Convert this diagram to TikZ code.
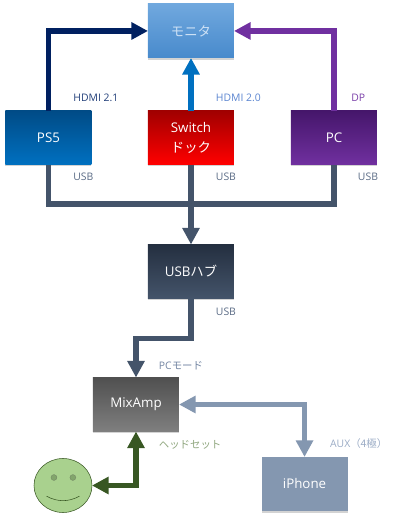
\documentclass[tikz,border=0pt]{standalone}
\usepackage{fontspec}
\setmainfont{Open Sans}
\newfontfamily\jpfont{Noto Sans CJK JP}
\usepackage{xcolor}
\usetikzlibrary{positioning,arrows.meta,shapes.geometric,shadows}

\definecolor{navyline}{HTML}{002060}
\definecolor{blueline}{HTML}{0070C0}
\definecolor{purpleline}{HTML}{7030A0}
\definecolor{usbline}{HTML}{44546A}
\definecolor{auxline}{HTML}{8497B0}
\definecolor{greenline}{HTML}{385723}
\definecolor{monitortop}{HTML}{70A8DE}
\definecolor{monitorbot}{HTML}{488ACC}
\definecolor{monitortext}{HTML}{CDE1F5}
\definecolor{ps5top}{HTML}{004B86}
\definecolor{switchtop}{HTML}{A00000}
\definecolor{pctop}{HTML}{45166A}
\definecolor{hubtop}{HTML}{242F40}
\definecolor{mixtop}{HTML}{505050}
\definecolor{mixbot}{HTML}{7F7F7F}
\definecolor{facefill}{HTML}{A9D18E}
\definecolor{eyefill}{HTML}{82A56C}
\definecolor{hdmiatext}{HTML}{23407A}
\definecolor{hdmibtext}{HTML}{5B85D0}
\definecolor{dptext}{HTML}{7A3FA8}
\definecolor{usbtext}{HTML}{5A6B85}
\definecolor{pcmodetext}{HTML}{7486A3}
\definecolor{headsettext}{HTML}{8FA67E}
\definecolor{auxtext}{HTML}{9AABC5}

\tikzset{
  devbox/.style={
    rectangle,
    align=center,
    text=white,
    font=\fontsize{10}{12}\selectfont,
    minimum width=64.5pt,
    minimum height=40.5pt,
    outer sep=0pt,
    drop shadow={shadow xshift=0pt,shadow yshift=-1.2pt,opacity=.35}
  },
  lbl/.style={anchor=west,inner sep=0pt,font=\fontsize{7.8}{9}\selectfont},
  wire/.style={line width=4pt,-{Triangle[length=12.5pt,width=12.5pt]}},
  plainwire/.style={line width=4pt},
  bothwire/.style={line width=4pt,{Triangle[length=12.5pt,width=12.5pt]}-{Triangle[length=12.5pt,width=12.5pt]}}
}

\begin{document}
\begin{tikzpicture}[on grid]

\node (switch) [devbox,top color=switchtop,bottom color=red]
{Switch\\[3pt]{\jpfont ドック}};

\useasboundingbox (-143.25pt,103.125pt) rectangle (156.75pt,-286.125pt);

\node (monitor) [devbox,above=79.9pt of switch,top color=monitortop,bottom color=monitorbot,text=monitortext]
{\jpfont モニタ};

\node (ps5) [devbox,left=106.9pt of switch,top color=ps5top,bottom color=blueline]
{PS5};

\node (pc) [devbox,right=107.25pt of switch,top color=pctop,bottom color=purpleline]
{PC};

\node (usbhub) [devbox,below=100.5pt of switch,top color=hubtop,bottom color=usbline]
{USB{\jpfont ハブ}};

\node (mixamp) [devbox,below left=99.75pt and 41.25pt of usbhub,top color=mixtop,bottom color=mixbot]
{MixAmp};

\node (iphone) [devbox,below right=59.6pt and 126.4pt of mixamp,fill=auxline]
{iPhone};

\node (face) [ellipse,draw=greenline,line width=.4pt,fill=facefill,minimum width=43.5pt,minimum height=40.5pt,inner sep=0pt,outer sep=0pt,below left=60.75pt and 54.75pt of mixamp] {};

\coordinate (usbjoin) at ([yshift=-49.9pt]switch.center);
\coordinate (hubturn) at ([yshift=29.5pt]mixamp.north);

% video
\draw[wire,navyline] (ps5.north) |- (monitor.west);
\draw[wire,blueline] (switch.north) -- (monitor.south);
\draw[wire,purpleline] (pc.north) |- (monitor.east);

% usb
\draw[plainwire,usbline] (ps5.south) |- (usbjoin);
\draw[plainwire,usbline] (pc.south) |- (usbjoin);
\draw[wire,usbline] (switch.south) -- (usbhub.north);
\draw[wire,usbline] (usbhub.south) |- (hubturn) -- (mixamp.north);

% audio
\draw[bothwire,auxline] (mixamp.east) -| (iphone.north);
\draw[bothwire,greenline] (mixamp.south) |- (face.east);

% face
\filldraw[draw=greenline!70,line width=.3pt,fill=eyefill] ([xshift=-6.8pt,yshift=6pt]face.center) circle (2.2pt);
\filldraw[draw=greenline!70,line width=.3pt,fill=eyefill] ([xshift=7.4pt,yshift=6pt]face.center) circle (2.2pt);
\draw[greenline,line width=.4pt] ([xshift=-12.4pt,yshift=-8pt]face.center) .. controls ([xshift=-4pt,yshift=-12.5pt]face.center) and ([xshift=4pt,yshift=-12.5pt]face.center) .. ([xshift=12.4pt,yshift=-8pt]face.center);

% labels
\node (hdmia) [lbl,text=hdmiatext] at ([xshift=18.5pt,yshift=9.75pt]ps5.north) {HDMI 2.1};
\node (hdmib) [lbl,text=hdmibtext] at ([xshift=18.5pt,yshift=9.75pt]switch.north) {HDMI 2.0};
\node (dp) [lbl,text=dptext] at ([xshift=12.75pt,yshift=9.75pt]pc.north) {DP};
\node (usba) [lbl,text=usbtext] at ([xshift=18.5pt,yshift=-9pt]ps5.south) {USB};
\node (usbb) [lbl,text=usbtext] at ([xshift=18.5pt,yshift=-9pt]switch.south) {USB};
\node (usbc) [lbl,text=usbtext] at ([xshift=17.8pt,yshift=-9pt]pc.south) {USB};
\node (usbd) [lbl,text=usbtext] at ([xshift=18.5pt,yshift=-9.75pt]usbhub.south) {USB};
\node (pcmode) [lbl,text=pcmodetext] at ([xshift=17pt,yshift=9pt]mixamp.north) {PC{\jpfont モード}};
\node (headset) [lbl,text=headsettext] at ([xshift=17pt,yshift=-9.75pt]mixamp.south) {\jpfont ヘッドセット};
\node (aux) [lbl,text=auxtext] at ([xshift=19pt,yshift=10pt]iphone.north) {AUX{\jpfont （4極）}};

\end{tikzpicture}
\end{document}
